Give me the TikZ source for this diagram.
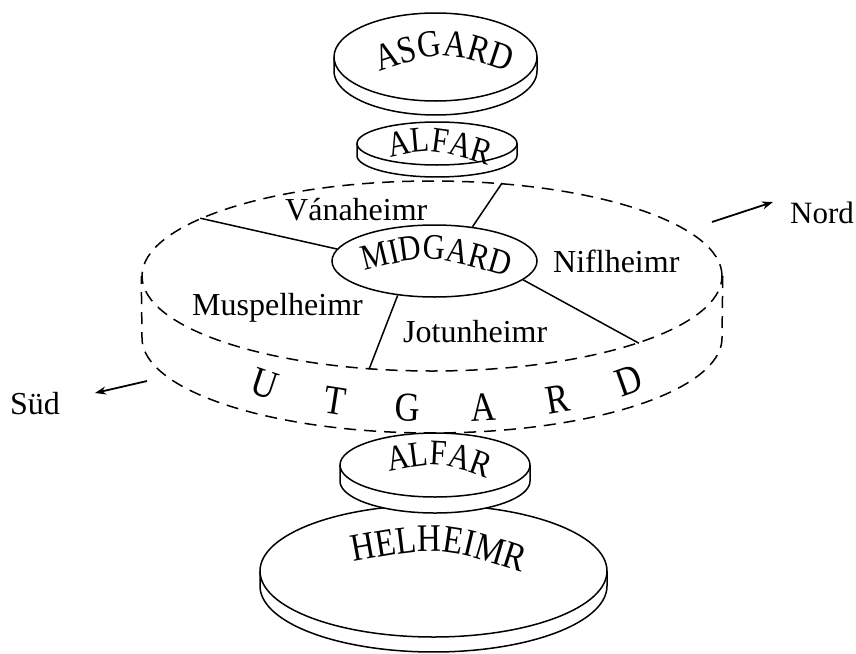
\documentclass[tikz,border=0pt]{standalone}
\usepackage{fontspec}
\setmainfont{Liberation Serif}
\newfontfamily\diskfamily[FakeStretch=0.85]{Liberation Serif}
\usetikzlibrary{arrows.meta,decorations.text,shapes.geometric}
\newcommand\fontAsg{\diskfamily\fontsize{38}{38}\selectfont}
\newcommand\fontAlf{\diskfamily\fontsize{36}{36}\selectfont}
\newcommand\fontMid{\diskfamily\fontsize{36}{36}\selectfont}
\newcommand\fontHel{\diskfamily\fontsize{39}{39}\selectfont}
\newcommand\fontUtg{\diskfamily\fontsize{41}{41}\selectfont}
% disk body: cx, cy, rx, ry, thickness
\newcommand\diskbody[5]{%
  \draw[diskline, fill=white] ({#1+#3},{#2}) -- ({#1+#3},{#2+#5})
    -- plot[domain=0:180,samples=90] ({#1+#3*cos(\x)},{#2+#5+#4*sin(\x)})
    -- ({#1-#3},{#2});
}
\begin{document}
\begin{tikzpicture}[x=1pt,y=-1pt,
  diskline/.style={line width=1.5pt},
  disktop/.style={ellipse, draw, fill=white, line width=1.5pt, inner sep=0pt},
  utg/.style={line width=1.5pt, dash pattern=on 12pt off 8pt},
  region/.style={line width=1.5pt},
  lbl/.style={font=\fontsize{32}{32}\selectfont, inner sep=0pt},
  arr/.style={line width=1.8pt, -{Stealth[length=11pt,width=8pt]}}]
\useasboundingbox (0,0) rectangle (856,653);

% ---- UTGARD (dashed cylinder) ----
\node[ellipse, draw, utg, inner sep=0pt, minimum width=580pt, minimum height=190pt] (utgtop) at (432,276) {};
\draw[utg] (utgtop.east) -- (722,338)
  -- plot[domain=0:180,samples=120] ({432+290*cos(\x)},{338+95*sin(\x)})
  -- (utgtop.west);
\path[decorate, decoration={text along path, text={|\fontUtg|UTGARD}, text align={fit to path}}]
  plot[domain=43:140,samples=80] ({442-265*cos(\x)},{330+92*sin(\x)});

% ---- MIDGARD ----
\node[disktop, minimum width=205pt, minimum height=72pt] (midgard) at (434.5,261) {};
\path[decorate, decoration={text along path, text={|\fontMid|MIDGARD}, text align=center}]
  (360,272) .. controls (430,254) .. (512,278);

% region borders
\draw[region] (utgtop.166.9) -- (midgard.173);
\draw[region] (utgtop.53.9) -- (midgard.42.3);
\draw[region] (midgard.-12.1) -- (utgtop.-18.8);
\draw[region] (midgard.223.8) -- (utgtop.236.5);

% region names
\node[lbl, anchor=base west] (vana) at (285,220) {Vánaheimr};
\node[lbl, anchor=base west] (nifl) at (553,272) {Niflheimr};
\node[lbl, anchor=base west] (musp) at (192,315) {Muspelheimr};
\node[lbl, anchor=base west] (jotun) at (403,342) {Jotunheimr};

% ---- HELHEIMR ----
\diskbody{433.5}{571}{173.5}{66}{15}
\node[disktop, minimum width=347pt, minimum height=132pt] (helheimr) at (433.5,571) {};
\path[decorate, decoration={text along path, text={|\fontHel|HELHEIMR}, text align=center}]
  (348,563) .. controls (440,546) .. (527,574);

% ---- lower ALFAR ----
\diskbody{435}{465}{95}{32}{16}
\node[disktop, minimum width=190pt, minimum height=64pt] (alfarlow) at (435,465) {};
\path[decorate, decoration={text along path, text={|\fontAlf|ALFAR}, text align=center}]
  (382,473) .. controls (440,461) .. (494,481);

% ---- upper ALFAR ----
\diskbody{437}{143.5}{80}{21.5}{12}
\node[disktop, minimum width=160pt, minimum height=43pt] (alfarup) at (437,143.5) {};
\path[decorate, decoration={text along path, text={|\fontAlf|ALFAR}, text align=center}]
  (384,159) .. controls (432,148) .. (494,167);

% ---- ASGARD ----
\diskbody{435.5}{57}{101.5}{44}{14}
\node[disktop, minimum width=203pt, minimum height=88pt] (asgard) at (435.5,57) {};
\path[decorate, decoration={text along path, text={|\fontAsg|ASGARD}, text align=center}]
  (373,74) .. controls (444,50) .. (515,74);

% ---- directions ----
\node[lbl, anchor=base west] (sud) at (10,414) {Süd};
\node[lbl, anchor=base west, font=\fontsize{31}{31}\selectfont] (nord) at (790,223) {Nord};
\coordinate (sudstart) at (147,381);
\coordinate (sudtip) at (95,393);
\coordinate (nordstart) at (712,222);
\coordinate (nordtip) at (773,202);
\draw[arr] (sudstart) -- (sudtip);
\draw[arr] (nordstart) -- (nordtip);
\end{tikzpicture}
\end{document}
